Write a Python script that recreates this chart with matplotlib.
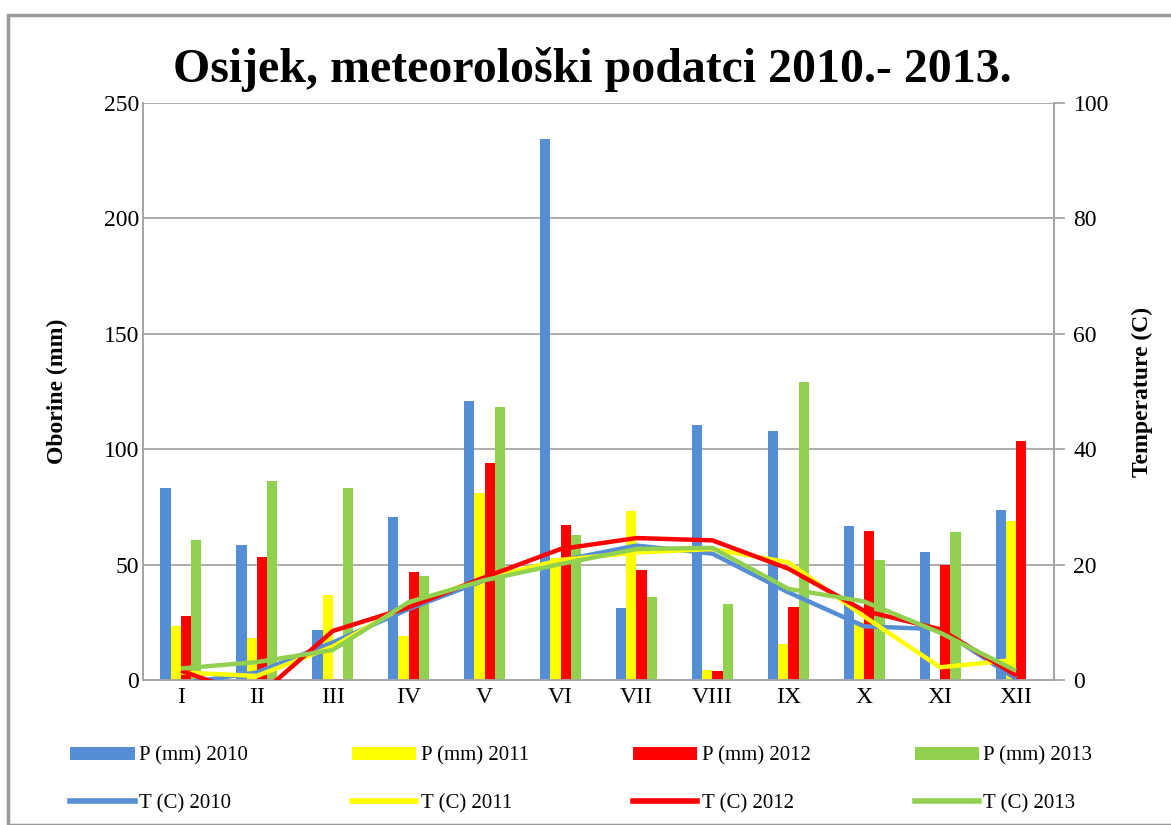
import matplotlib
matplotlib.use("Agg")
import matplotlib.pyplot as plt
from matplotlib.patches import Rectangle, Patch
from matplotlib.lines import Line2D
import numpy as np

plt.rcParams['font.family'] = ['Liberation Serif', 'DejaVu Serif']

# Mjeseci
months = ["I", "II", "III", "IV", "V", "VI", "VII", "VIII", "IX", "X", "XI", "XII"]

# Oborine (mm)
p_2010 = [83.3, 58.4, 21.7, 70.5, 120.7, 234.2, 31.0, 110.7, 108.0, 66.8, 55.6, 73.5]
p_2011 = [23.2, 18.3, 36.7, 18.9, 81.2, 53.0, 73.4, 4.5, 15.6, 25.0, 0.0, 69.0]
p_2012 = [27.8, 53.5, 0.5, 46.7, 94.1, 67.2, 47.8, 3.9, 31.7, 64.7, 49.7, 103.5]
p_2013 = [60.7, 86.3, 83.3, 45.1, 118.5, 62.9, 36.1, 32.8, 129.2, 51.9, 64.0, 0.0]

# Temperature (C)
t_2010 = [-0.6, 1.3, 6.5, 12.3, 17.3, 20.7, 23.3, 21.9, 15.2, 9.3, 8.8, 0.2]
t_2011 = [1.3, 0.7, 5.8, 13.2, 17.6, 20.8, 22.1, 22.7, 20.4, 11.0, 2.2, 3.5]
t_2012 = [1.6, -3.0, 8.5, 12.6, 17.8, 22.7, 24.6, 24.2, 19.3, 12.0, 8.8, 0.8]
t_2013 = [2.0, 3.1, 5.2, 13.5, 17.3, 20.1, 22.7, 22.9, 15.8, 13.6, 8.2, 1.6]

years = ["2010", "2011", "2012", "2013"]
colors = ["#558ED5", "#FFFF00", "#FF0000", "#92D050"]
p_all = [p_2010, p_2011, p_2012, p_2013]
t_all = [t_2010, t_2011, t_2012, t_2013]

fig = plt.figure(figsize=(11.71, 8.25), dpi=100)
W, H = 1171, 825

# Okvir grafikona
fig.patches.append(Rectangle((8 / W, 0), 1, 1 - 15 / H, transform=fig.transFigure,
                             fill=False, edgecolor="#9a9a9a", linewidth=2.5))

ax = fig.add_axes([143 / W, 1 - 680 / H, 911 / W, 577 / H])
ax2 = ax.twinx()

x = np.arange(len(months))
bw = 0.135
for i, (vals, c) in enumerate(zip(p_all, colors)):
    ax.bar(x + (i - 1.5) * bw, vals, width=bw, color=c, zorder=3)

for vals, c in zip(t_all, colors):
    ax2.plot(x, vals, color=c, linewidth=3.2, solid_capstyle="butt", zorder=4)

ax.set_xlim(-0.5, 11.5)
ax.set_ylim(0, 250)
ax.set_yticks(range(0, 251, 50))
ax2.set_ylim(0, 100)
ax2.set_yticks(range(0, 101, 20))
ax.set_xticks(x)
ax.set_xticklabels(months)

grid_c = "#a6a6a6"
ax.yaxis.grid(True, color=grid_c, linewidth=1.3, zorder=0)
ax.set_axisbelow(True)
for a in (ax, ax2):
    for s in a.spines.values():
        s.set_color(grid_c)
        s.set_linewidth(1.3)
    a.spines["top"].set_visible(False)

ax.tick_params(axis="x", length=0, labelsize=17, pad=5)
ax.tick_params(axis="y", length=0, labelsize=17, pad=3)
ax2.tick_params(axis="y", length=8, width=1.3, color=grid_c, labelsize=17, pad=6)

ax.set_ylabel("Oborine (mm)", fontsize=17, fontweight="bold")
ax.yaxis.set_label_coords(-0.082, 0.5)
ax2.set_ylabel("Temperature (C)", fontsize=17, fontweight="bold")
ax2.yaxis.set_label_coords(1.085, 0.5)

fig.text(592 / W, 1 - 70 / H, "Osijek, meteorološki podatci 2010.- 2013.",
         ha="center", va="center", fontsize=34.5, fontweight="bold")

# Legenda
handles, labels = [], []
for y, c in zip(years, colors):
    handles.append(Patch(facecolor=c))
    labels.append(f"P (mm) {y}")
    handles.append(Line2D([0], [0], color=c, linewidth=4))
    labels.append(f"T (C) {y}")
fig.legend(handles, labels, ncol=4, loc="center left",
           bbox_to_anchor=(70 / W, 1 - 780 / H), frameon=False, fontsize=15,
           handlelength=3.1, handleheight=0.6, handletextpad=0.2,
           columnspacing=5.0, labelspacing=1.35, borderpad=0, borderaxespad=0)

fig.savefig("out.png", dpi=100)
